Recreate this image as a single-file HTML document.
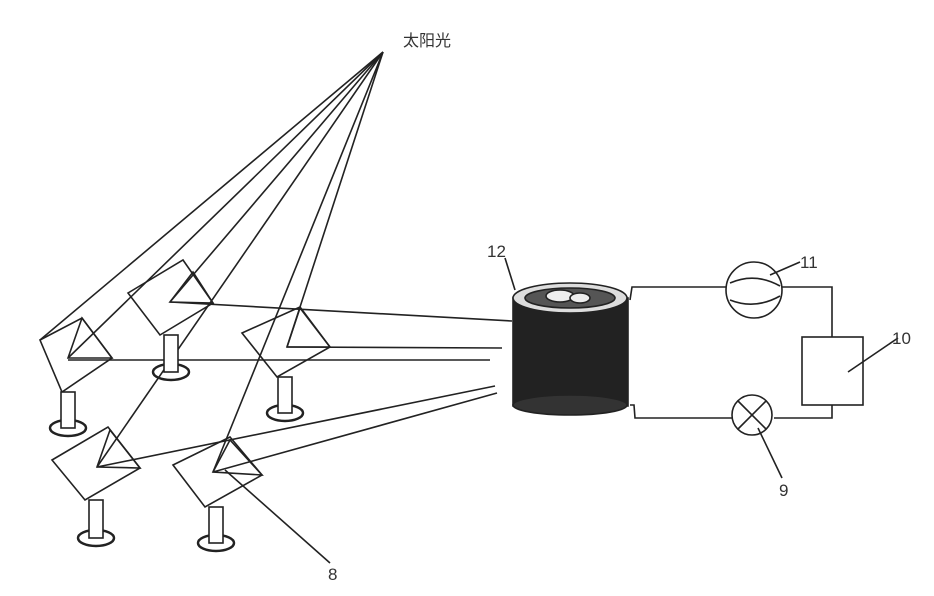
<!DOCTYPE html>
<html><head><meta charset="utf-8"><style>body{margin:0;background:#fff}svg{display:block}</style></head><body>
<svg width="934" height="596" viewBox="0 0 934 596" xmlns="http://www.w3.org/2000/svg" font-family="Liberation Sans, 'Noto Sans CJK SC', sans-serif">
<g stroke="#222" stroke-width="1.6" fill="none">
<line x1="383" y1="52" x2="40" y2="340"/>
<line x1="383" y1="52" x2="68" y2="358"/>
<line x1="383" y1="52" x2="170" y2="302"/>
<line x1="383" y1="52" x2="97" y2="467"/>
<line x1="383" y1="52" x2="213" y2="472"/>
<line x1="383" y1="52" x2="287" y2="347"/>
<line x1="170" y1="302" x2="512" y2="321"/>
<line x1="68" y1="360" x2="490" y2="360"/>
<line x1="287" y1="347" x2="502" y2="348"/>
<line x1="97" y1="467" x2="495" y2="386"/>
<line x1="213" y1="472" x2="497" y2="393"/>
<polygon points="40,340 82,318 112,358 62,392"/>
<polygon points="68,358 82,318 112,358"/>
<polygon points="128,293 183,260 213,303 160,335"/>
<polygon points="170,302 193,272 213,303"/>
<polygon points="242,333 300,307 330,347 277,377"/>
<polygon points="287,347 300,308 330,347"/>
<polygon points="52,460 108,427 140,468 85,500"/>
<polygon points="97,467 110,430 140,468"/>
<polygon points="173,465 230,437 262,475 205,507"/>
<polygon points="213,472 230,440 262,475"/>
<ellipse cx="68" cy="428" rx="18" ry="8" stroke-width="2.5"/>
<rect x="61" y="392" width="14" height="36" fill="#fff"/>
<ellipse cx="171" cy="372" rx="18" ry="8" stroke-width="2.5"/>
<rect x="164" y="335" width="14" height="37" fill="#fff"/>
<ellipse cx="285" cy="413" rx="18" ry="8" stroke-width="2.5"/>
<rect x="278" y="377" width="14" height="36" fill="#fff"/>
<ellipse cx="96" cy="538" rx="18" ry="8" stroke-width="2.5"/>
<rect x="89" y="500" width="14" height="38" fill="#fff"/>
<ellipse cx="216" cy="543" rx="18" ry="8" stroke-width="2.5"/>
<rect x="209" y="507" width="14" height="36" fill="#fff"/>
<line x1="225" y1="470" x2="330" y2="563"/>
<rect x="513" y="298" width="115" height="108" fill="#222"/>
<ellipse cx="570" cy="405" rx="57" ry="10" fill="#333"/>
<ellipse cx="570" cy="298" rx="57" ry="15" fill="#ddd"/>
<ellipse cx="570" cy="298" rx="45" ry="10" fill="#555"/>
<ellipse cx="560" cy="296" rx="14" ry="6" fill="#eee"/>
<ellipse cx="580" cy="298" rx="10" ry="5" fill="#eee"/>
<line x1="505" y1="258" x2="515" y2="290"/>
<polyline points="630,300 632,287 726,287"/>
<circle cx="754" cy="290" r="28"/>
<path d="M730,283 Q755,272 780,286 M730,300 Q755,310 780,296"/>
<polyline points="782,287 832,287 832,337"/>
<rect x="802" y="337" width="61" height="68"/>
<polyline points="832,405 832,418 774,418"/>
<circle cx="752" cy="415" r="20"/>
<line x1="738" y1="401" x2="766" y2="429"/>
<line x1="766" y1="401" x2="738" y2="429"/>
<polyline points="732,418 635,418 634,405 630,405"/>
<line x1="770" y1="275" x2="800" y2="262"/>
<line x1="848" y1="372" x2="898" y2="338"/>
<line x1="758" y1="428" x2="782" y2="478"/>
</g>
<g fill="#333" font-size="17">
<text x="403" y="46" font-size="16">太阳光</text>
<text x="487" y="257">12</text>
<text x="800" y="268">11</text>
<text x="892" y="344">10</text>
<text x="779" y="496">9</text>
<text x="328" y="580">8</text>
</g>
</svg>
</body></html>
